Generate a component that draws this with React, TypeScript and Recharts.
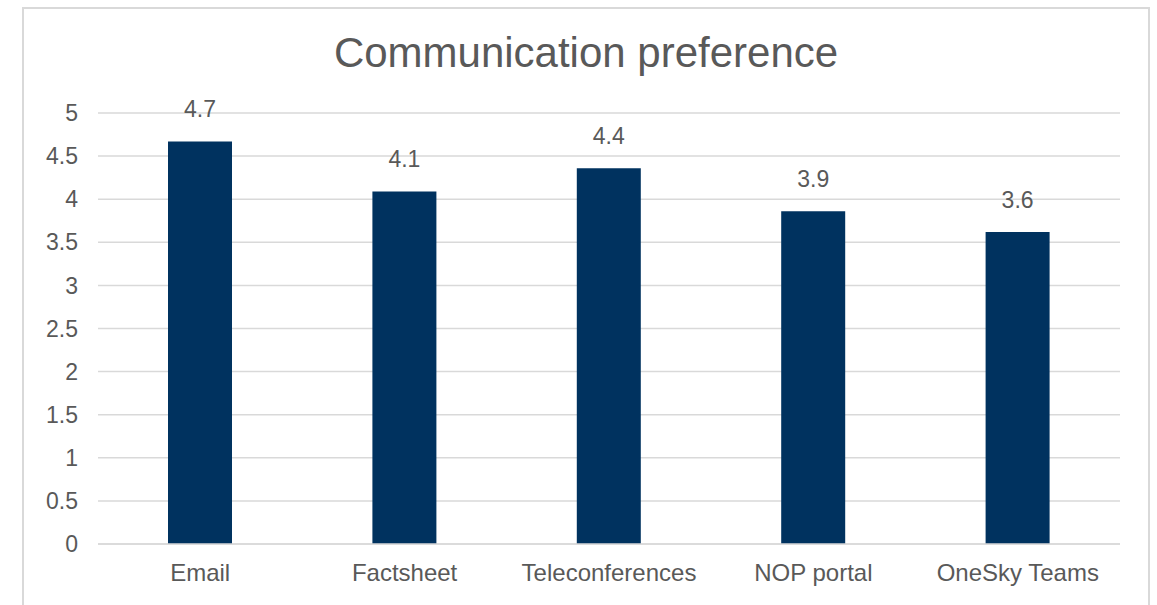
import { BarChart, Bar, XAxis, YAxis, CartesianGrid, LabelList } from 'recharts';

const categories = ['Email', 'Factsheet', 'Teleconferences', 'NOP portal', 'OneSky Teams'];
const scores = [4.67, 4.09, 4.36, 3.86, 3.62];
const yTicks = [0, 0.5, 1, 1.5, 2, 2.5, 3, 3.5, 4, 4.5, 5];

const data = categories.map((name, i) => ({ name, score: scores[i] }));

const FONT = '"Liberation Sans", Arial, sans-serif';
const TEXT = '#595959';

export default function App() {
    return (
        <div style={{ position: 'fixed', left: 0, top: 0, width: 1157, height: 605, background: '#fff', fontFamily: FONT }}>
            <div style={{
                position: 'absolute', left: 22, top: 7, width: 1128, height: 610,
                border: '2px solid #d9d9d9', boxSizing: 'border-box',
            }} />
            <div style={{
                position: 'absolute', left: 22, width: 1128, top: 29, textAlign: 'center',
                fontSize: 42, color: TEXT, lineHeight: '48px', whiteSpace: 'nowrap',
            }}>
                Communication preference
            </div>
            <div style={{ position: 'absolute', left: 0, top: 0 }}>
                <BarChart width={1157} height={605} data={data} margin={{ top: 113, right: 37, bottom: 31, left: 0 }}>
                    <CartesianGrid vertical={false} stroke="#d9d9d9" strokeWidth={1.5} />
                    <XAxis
                        dataKey="name"
                        height={30}
                        axisLine={{ stroke: '#d9d9d9', strokeWidth: 1.5 }}
                        tickLine={false}
                        tickSize={0}
                        tickMargin={20}
                        tick={{ fill: TEXT, fontSize: 24, fontFamily: FONT }}
                    />
                    <YAxis
                        width={98}
                        domain={[0, 5]}
                        ticks={yTicks}
                        axisLine={false}
                        tickLine={false}
                        tickSize={0}
                        tickMargin={20}
                        tick={{ fill: TEXT, fontSize: 23, fontFamily: FONT }}
                    />
                    <Bar dataKey="score" fill="#00325F" barSize={64} isAnimationActive={false}>
                        <LabelList
                            dataKey="score"
                            position="top"
                            offset={24}
                            formatter={(v: any) => Number(v).toFixed(1)}
                            style={{ fill: TEXT, fontSize: 23, fontFamily: FONT }}
                        />
                    </Bar>
                </BarChart>
            </div>
        </div>
    );
}
